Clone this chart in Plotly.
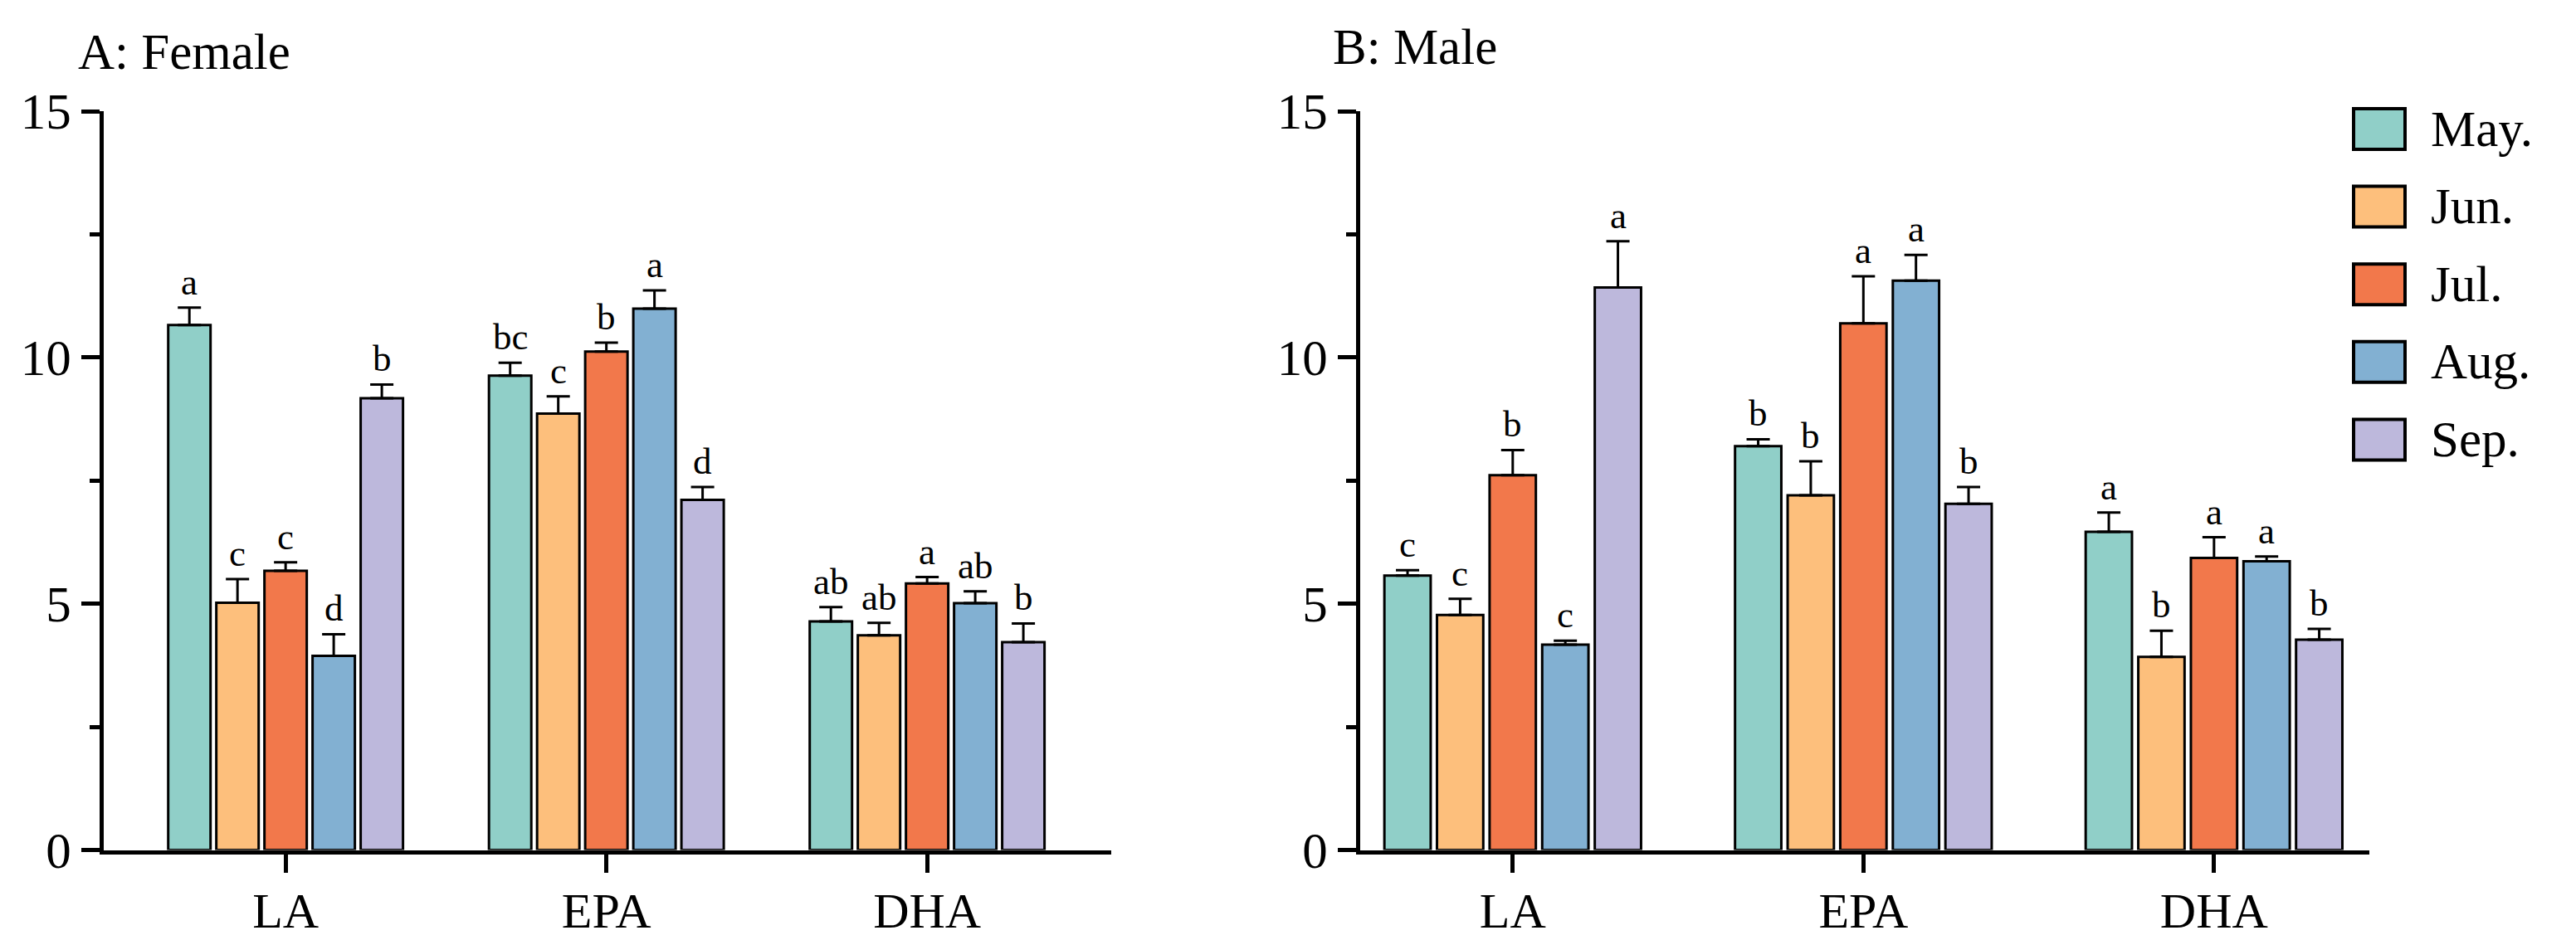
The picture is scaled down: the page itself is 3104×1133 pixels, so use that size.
import plotly.graph_objects as go

W, H = 3104, 1133

categories = ["LA", "EPA", "DHA"]
months = ["May.", "Jun.", "Jul.", "Aug.", "Sep."]
colors = ["#90CFC8", "#FDBF7C", "#F2784B", "#82B0D2", "#BDB8DC"]

# Female (panel A): values per month across LA, EPA, DHA
female_vals = {
    "May.": [10.66, 9.63, 4.64],
    "Jun.": [5.02, 8.86, 4.36],
    "Jul.": [5.67, 10.12, 5.41],
    "Aug.": [3.94, 10.99, 5.01],
    "Sep.": [9.17, 7.11, 4.22],
}
female_err = {
    "May.": [0.35, 0.26, 0.29],
    "Jun.": [0.48, 0.35, 0.25],
    "Jul.": [0.17, 0.18, 0.13],
    "Aug.": [0.44, 0.37, 0.24],
    "Sep.": [0.28, 0.26, 0.38],
}
female_letters = {
    "May.": ["a", "bc", "ab"],
    "Jun.": ["c", "c", "ab"],
    "Jul.": ["c", "b", "a"],
    "Aug.": ["d", "a", "ab"],
    "Sep.": ["b", "d", "b"],
}

# Male (panel B)
male_vals = {
    "May.": [5.57, 8.20, 6.46],
    "Jun.": [4.77, 7.20, 3.92],
    "Jul.": [7.61, 10.69, 5.93],
    "Aug.": [4.17, 11.56, 5.86],
    "Sep.": [11.42, 7.03, 4.27],
}
male_err = {
    "May.": [0.11, 0.14, 0.39],
    "Jun.": [0.33, 0.69, 0.53],
    "Jul.": [0.51, 0.96, 0.42],
    "Aug.": [0.08, 0.52, 0.10],
    "Sep.": [0.94, 0.34, 0.22],
}
male_letters = {
    "May.": ["c", "b", "a"],
    "Jun.": ["c", "b", "b"],
    "Jul.": ["b", "a", "a"],
    "Aug.": ["c", "a", "a"],
    "Sep.": ["a", "b", "b"],
}

y_ticks = [0, 5, 10, 15]
y_tick_text = ["0", "5", "10", "15"]

FONT = "Liberation Serif, Times New Roman, serif"
BARGAP = 0.25
BARGROUPGAP = 0.12
pitch = (1 - BARGAP) / len(months)

fig = go.Figure()
annotations = []

panels = [
    (female_vals, female_err, female_letters, "x", "y"),
    (male_vals, male_err, male_letters, "x2", "y2"),
]
for vals, errs, letters, xa, ya in panels:
    for i, m in enumerate(months):
        fig.add_trace(go.Bar(
            x=list(range(len(categories))), y=vals[m], name=m,
            marker=dict(color=colors[i], line=dict(color="black", width=3)),
            error_y=dict(type="data", array=errs[m], arrayminus=[0] * 3,
                         symmetric=False, color="black", thickness=3, width=14),
            xaxis=xa, yaxis=ya, showlegend=False,
        ))
        for j in range(len(categories)):
            annotations.append(dict(
                x=j + (i - 2) * pitch, y=vals[m][j] + errs[m][j],
                xref=xa, yref=ya, text=letters[m][j], showarrow=False,
                yanchor="bottom", xanchor="center", yshift=4,
                font=dict(family=FONT, size=45, color="black"),
            ))

# Titles
annotations.append(dict(x=92 / W, y=1 - 62 / H, xref="paper", yref="paper",
                        text="A: Female", showarrow=False, xanchor="left", yanchor="middle",
                        font=dict(family=FONT, size=61, color="black")))
annotations.append(dict(x=1604 / W, y=1 - 57 / H, xref="paper", yref="paper",
                        text="B: Male", showarrow=False, xanchor="left", yanchor="middle",
                        font=dict(family=FONT, size=61, color="black")))

# Legend drawn manually (large boxes)
shapes = []
for i, m in enumerate(months):
    top = 131 + i * 93.6
    bot = top + 49
    shapes.append(dict(type="rect", xref="paper", yref="paper",
                       x0=2836 / W, x1=2898 / W, y0=1 - bot / H, y1=1 - top / H,
                       fillcolor=colors[i], line=dict(color="black", width=4)))
    annotations.append(dict(x=2927 / W, y=1 - (top + 24) / H, xref="paper", yref="paper",
                            text=m, showarrow=False, xanchor="left", yanchor="middle",
                            font=dict(family=FONT, size=61, color="black")))

ydom = [1 - 1024.5 / H, 1 - 134 / H]
common_x = dict(
    tickmode="array", tickvals=list(range(len(categories))), ticktext=categories,
    showline=True, linewidth=5, linecolor="black", ticks="outside", ticklen=22,
    tickwidth=5, tickcolor="black", showgrid=False, zeroline=False, automargin=False,
    tickfont=dict(family=FONT, size=60, color="black"), ticklabelstandoff=-6,
)
common_y = dict(
    range=[0, 15], tickmode="array", tickvals=y_ticks, ticktext=y_tick_text,
    showline=True, linewidth=5, linecolor="black", ticks="outside", ticklen=22,
    tickwidth=5, tickcolor="black", showgrid=False, zeroline=False, automargin=False,
    tickfont=dict(family=FONT, size=61, color="black"), domain=ydom,
    minor=dict(tickvals=[2.5, 7.5, 12.5], ticks="outside", ticklen=12,
               tickwidth=5, tickcolor="black", showgrid=False),
)

fig.update_layout(
    width=W, height=H, margin=dict(l=0, r=0, t=0, b=0, autoexpand=False),
    paper_bgcolor="white", plot_bgcolor="white",
    barmode="group", bargap=BARGAP, bargroupgap=BARGROUPGAP,
    xaxis=dict(common_x, domain=[125 / W, 1339 / W], range=[-0.567, 2.574], anchor="y"),
    yaxis=dict(common_y, anchor="x"),
    xaxis2=dict(common_x, domain=[1639 / W, 2855 / W], range=[-0.435, 2.443], anchor="y2"),
    yaxis2=dict(common_y, anchor="x2"),
    annotations=annotations, shapes=shapes, showlegend=False,
)

fig.write_html("out.html")
